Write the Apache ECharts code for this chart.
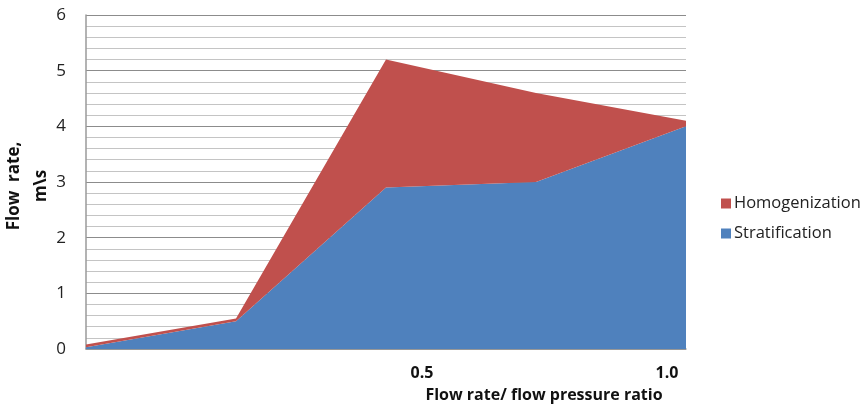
<!DOCTYPE html>
<html><head><meta charset="utf-8">
<script src="https://cdn.jsdelivr.net/npm/echarts@6/dist/echarts.min.js"></script>
<style>html,body{margin:0;padding:0;background:#fff}#c{width:862px;height:407px}</style>
</head><body><div id="c"></div>
<script>
const categories = ['', '', '0.5', '', '1.0'];
const stratification = [0.03, 0.5, 2.9, 3.0, 4.0];
const homogenization = [0.05, 0.05, 2.3, 1.6, 0.1];
const seriesNames = ['Homogenization', 'Stratification'];
const yTitle = 'Flow  rate,\nm\\s';

const chart = echarts.init(document.getElementById('c'));
const font = '"Open Sans", "Liberation Sans", sans-serif';
chart.setOption({
  animation: false,
  textStyle: { fontFamily: font },
  grid: { left: 86, right: 176, top: 15, bottom: 58, outerBoundsMode: 'none', containLabel: false },
  graphic: [{
    type: 'text', x: 28, y: 186, rotation: Math.PI / 2,
    style: { text: yTitle, align: 'center', verticalAlign: 'middle', fill: '#111',
      font: 'bold 17px "Open Sans", "Liberation Sans", sans-serif', lineHeight: 27 }
  }],
  legend: {
    orient: 'vertical', left: 716, top: 190, itemGap: 13,
    itemWidth: 10, itemHeight: 10, icon: 'rect',
    data: seriesNames,
    textStyle: { fontFamily: font, fontSize: 16.5, color: '#222', padding: [0,0,0,-2] }
  },
  xAxis: {
    type: 'category', boundaryGap: false, data: categories,
    name: 'Flow rate/ flow pressure ratio', nameLocation: 'middle', nameGap: 38,
    nameTextStyle: { fontFamily: font, fontSize: 16, fontWeight: 'bold', color: '#111', padding: [0,0,0,316] },
    axisLine: { lineStyle: { color: '#9a9a9a', width: 1.5 } },
    axisTick: { show: false },
    axisLabel: {
      interval: 0, margin: 16, color: '#111', fontSize: 16, fontWeight: 'bold',
      formatter: function (v) { return v === '0.5' ? '{a|' + v + '}' : (v === '1.0' ? '{b|' + v + '}' : v); },
      rich: {
        a: { fontFamily: font, fontSize: 16, fontWeight: 'bold', color: '#111', padding: [0,0,0,72] },
        b: { fontFamily: font, fontSize: 16, fontWeight: 'bold', color: '#111', padding: [0,38,0,0] }
      }
    },
    splitLine: { show: false }
  },
  yAxis: {
    type: 'value', min: 0, max: 6, interval: 1,
    axisLine: { show: true, lineStyle: { color: '#9a9a9a', width: 1.5 } },
    axisTick: { show: false },
    axisLabel: { margin: 20, color: '#222', fontSize: 17 },
    splitLine: { lineStyle: { color: '#8c8c8c', width: 1.2 } },
    minorTick: { show: false, splitNumber: 5 },
    minorSplitLine: { show: true, lineStyle: { color: '#c4c4c4', width: 1.2 } }
  },
  series: [
    { name: 'Stratification', type: 'line', stack: 'total', data: stratification,
      symbol: 'none', lineStyle: { width: 0 }, areaStyle: { color: '#4F81BD', opacity: 1 }, itemStyle: { color: '#4F81BD' } },
    { name: 'Homogenization', type: 'line', stack: 'total', data: homogenization,
      symbol: 'none', lineStyle: { width: 0 }, areaStyle: { color: '#C0504D', opacity: 1 }, itemStyle: { color: '#C0504D' } }
  ]
});
</script></body></html>
